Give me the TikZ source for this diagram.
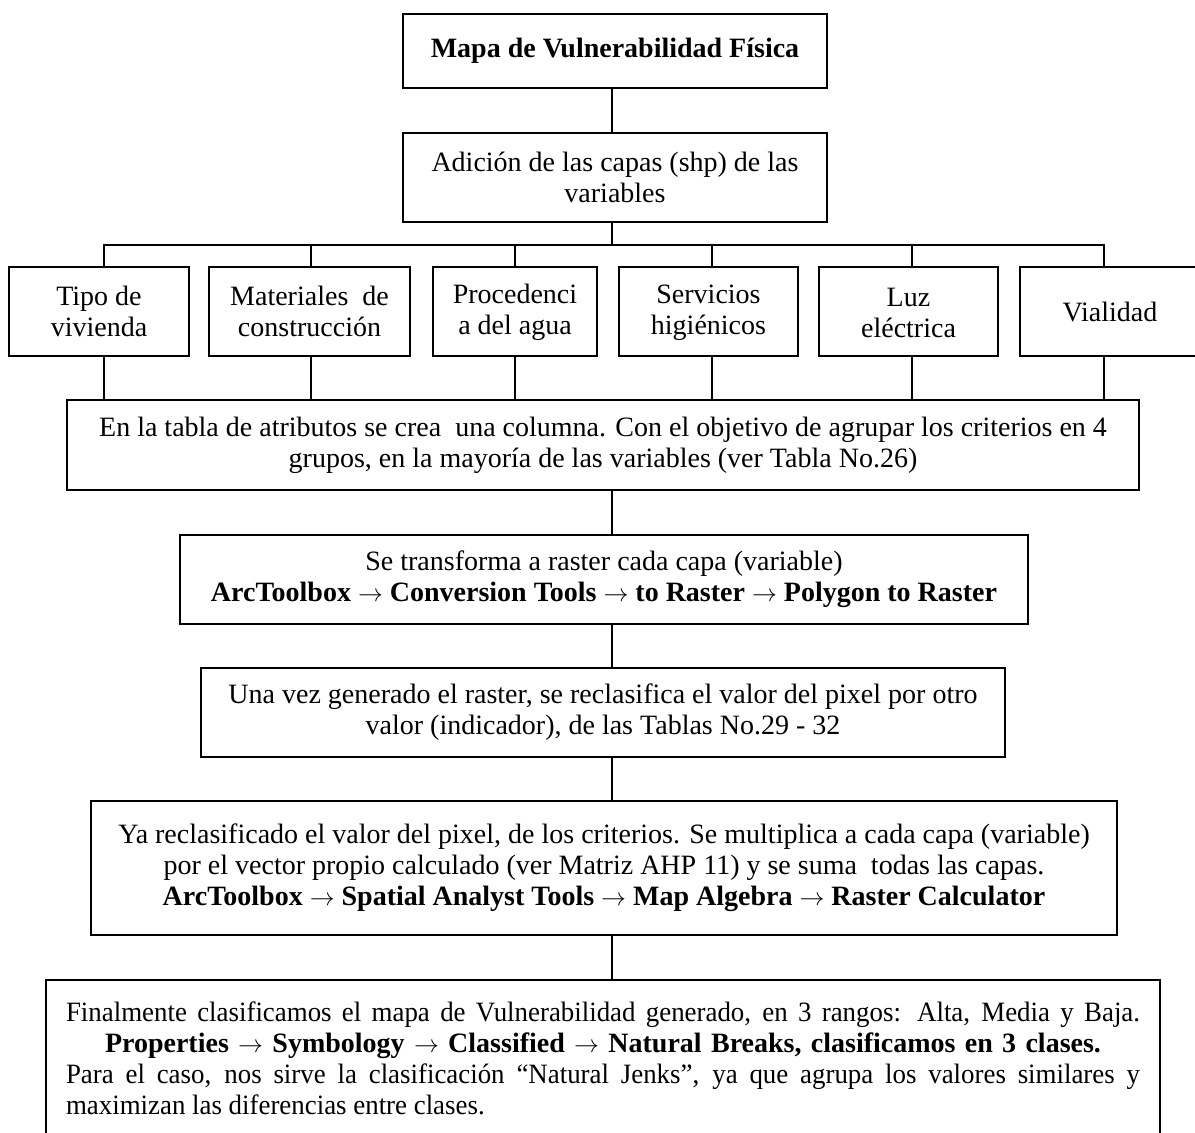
\documentclass[tikz,border=0pt]{standalone}
\usepackage{fontspec}
\setmainfont{Liberation Serif}
\newfontfamily\condfont[FakeStretch=0.96]{Liberation Serif}
\newcommand\bodyfs{\fontsize{28}{31}\selectfont}
\newcommand\arr{$\rightarrow$}
\newcommand\justline{\leftskip=0pt\rightskip=0pt\spaceskip=0pt\xspaceskip=0pt\relax}
\begin{document}
\begin{tikzpicture}[x=1pt,y=-1pt,
  box/.style={draw, line width=2.4pt, inner sep=0pt, align=center, font=\bodyfs},
  conn/.style={line width=2.4pt},
]
\useasboundingbox (0,0) rectangle (1195,1133);

\node[box, minimum width=424pt, minimum height=74pt, font={\bodyfs\bfseries}] (map) at (615,51) {Mapa de Vulnerabilidad Física};
\node[box, minimum width=424pt, minimum height=89pt] (add) at (615,177.5) {Adición de las capas (shp) de las\\variables};

\node[box, minimum width=180pt, minimum height=89pt] (v1) at (99,311.5) {Tipo de\\vivienda};
\node[box, minimum width=201pt, minimum height=89pt] (v2) at (309.5,311.5) {Materiales\ \ de\\construcción};
\node[box, minimum width=164pt, minimum height=89pt] (v3) at (515,311.5) {\strut Procedenci\\a del agua};
\node[box, minimum width=179pt, minimum height=89pt] (v4) at (708.5,311.5) {\strut Servicios\\higiénicos};
\node[box, minimum width=179pt, minimum height=89pt] (v5) at (908.5,311.5) {\strut Luz\\eléctrica};
\node[box, minimum width=180pt, minimum height=89pt] (v6) at (1110,311.5) {Vialidad};

\node[box, minimum width=1072pt, minimum height=90pt] (tabla) at (603,445) {En la tabla de atributos se crea\ \ una columna. Con el objetivo de agrupar los criterios en 4\\grupos, en la mayoría de las variables (ver Tabla No.26)};
\node[box, minimum width=848pt, minimum height=89pt] (ras) at (604,579.5) {Se transforma a raster cada capa (variable)\\\textbf{ArcToolbox \arr{} Conversion Tools \arr{} to Raster \arr{} Polygon to Raster}};
\node[box, minimum width=804pt, minimum height=89pt] (una) at (603,712.5) {Una vez generado el raster, se reclasifica el valor del pixel por otro\\valor (indicador), de las Tablas No.29 - 32};
\node[box, minimum width=1026pt, minimum height=134pt] (ya) at (604,868) {Ya reclasificado el valor del pixel, de los criterios. Se multiplica a cada capa (variable)\\por el vector propio calculado (ver Matriz AHP 11) y se suma\ \ todas las capas.\\\textbf{ArcToolbox \arr{} Spatial Analyst Tools \arr{} Map Algebra \arr{} Raster Calculator}};
\node[draw, line width=2.4pt, inner sep=0pt, font={\bodyfs\condfont}, minimum width=1114pt, minimum height=156pt, text width=1074pt] (fin) at (603,1058) {%
\parindent=0pt
{\justline\parfillskip=0pt Finalmente clasificamos el mapa de Vulnerabilidad generado, en 3 rangos: Alta, Media y Baja.\par}%
{\centering\rmfamily\bfseries Properties \arr{} Symbology \arr{} Classified \arr{} Natural Breaks, clasificamos en 3 clases.\par}%
{\justline Para el caso, nos sirve la clasificación “Natural Jenks”, ya que agrupa los valores similares y\linebreak maximizan las diferencias entre clases.\par}};

\coordinate (t) at (612,0);
\coordinate (bus) at (612,245);
\coordinate (d1) at (104,245);
\coordinate (d2) at (311,245);
\coordinate (d3) at (515,245);
\coordinate (d4) at (712,245);
\coordinate (d5) at (912,245);
\coordinate (d6) at (1104,245);

\draw[conn] (map.south -| t) -- (add.north -| t);
\draw[conn] (add.south -| t) -- (bus);
\draw[conn] (d1 |- v1.north) -- (d1) -- (d6) -- (d6 |- v6.north);
\foreach \i in {2,3,4,5} {\draw[conn] (d\i) -- (d\i |- v\i.north);}
\foreach \i in {1,...,6} {\draw[conn] (d\i |- v\i.south) -- (d\i |- tabla.north);}
\draw[conn] (tabla.south -| t) -- (ras.north -| t);
\draw[conn] (ras.south -| t) -- (una.north -| t);
\draw[conn] (una.south -| t) -- (ya.north -| t);
\draw[conn] (ya.south -| t) -- (fin.north -| t);
\end{tikzpicture}
\end{document}
